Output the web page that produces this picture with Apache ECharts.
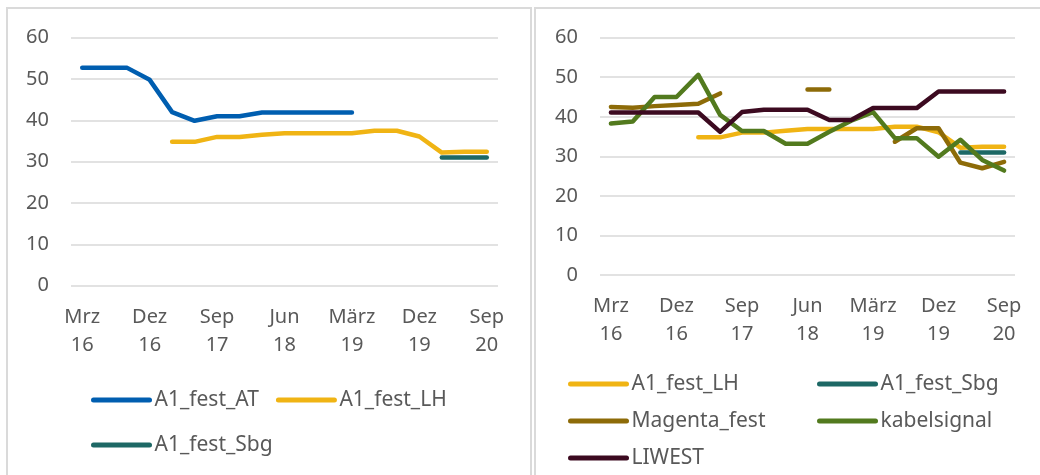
<!DOCTYPE html>
<html>
<head>
<meta charset="utf-8">
<script src="https://cdn.jsdelivr.net/npm/echarts@6/dist/echarts.min.js"></script>
<style>
body { margin: 0; background: #fff; overflow: hidden; }
.panel { position: absolute; top: 7px; height: 480px; border: 2px solid #dadada; }
#left { left: 6px; width: 522px; }
#right { left: 534px; width: 520px; }
</style>
</head>
<body>
<div id="left" class="panel"></div>
<div id="right" class="panel"></div>
<script>
var categories = ['Mrz 16', 'Jun 16', 'Sep 16', 'Dez 16', 'Mrz 17', 'Jun 17', 'Sep 17', 'Dez 17',
                  'Mrz 18', 'Jun 18', 'Sep 18', 'Dez 18', 'März 19', 'Jun 19', 'Sep 19', 'Dez 19',
                  'Mrz 20', 'Jun 20', 'Sep 20'];
var yTicks = [0, 60, 10];   // min, max, step

var a1FestAT   = [52.7, 52.7, 52.7, 49.8, 42.0, 39.9, 41.0, 41.0, 41.9, 41.9, 41.9, 41.9, 41.9,
                  null, null, null, null, null, null];
var a1FestLH   = [null, null, null, null, 34.8, 34.8, 36.0, 36.0, 36.5, 36.9, 36.9, 36.9, 36.9,
                  37.5, 37.5, 36.1, 32.2, 32.4, 32.4];
var a1FestSbg  = [null, null, null, null, null, null, null, null, null, null, null, null, null,
                  null, null, null, 31.0, 31.0, 31.0];
var magentaFest = [42.5, 42.3, 42.7, 43.0, 43.3, 45.9, null, null, null, 46.9, 46.9, null, null,
                   33.7, 37.1, 37.1, 28.4, 27.0, 28.6];
var kabelsignal = [38.3, 38.8, 45.0, 45.0, 50.6, 40.5, 36.4, 36.4, 33.2, 33.2, 36.2, 39.0, 41.2,
                   34.6, 34.6, 29.9, 34.2, 29.1, 26.4];
var liwest      = [41.1, 41.1, 41.1, 41.1, 41.1, 36.2, 41.2, 41.8, 41.8, 41.8, 39.2, 39.2, 42.2,
                   42.2, 42.2, 46.4, 46.4, 46.4, 46.4];

var colors = {
  at: '#005eb0', lh: '#f0b414', sbg: '#1d6865',
  magenta: '#8d6b08', kabel: '#527a1e', liwest: '#3c0a20'
};

var font = '"Noto Sans", sans-serif';
var textColor = '#595959';

function line(name, data, color) {
  return {
    name: name,
    type: 'line',
    data: data,
    symbol: 'none',
    lineStyle: { width: 4.5, color: color, cap: 'round', join: 'round' },
    itemStyle: { color: color },
    emphasis: { disabled: true }
  };
}

function axes(grid) {
  return {
    animation: false,
    textStyle: { fontFamily: font },
    grid: grid,
    xAxis: {
      type: 'category',
      data: categories,
      boundaryGap: true,
      axisLine: { show: false },
      axisTick: { show: false },
      splitLine: { show: false },
      axisLabel: {
        interval: 2,
        margin: 17,
        color: textColor,
        fontSize: 20,
        fontFamily: font,
        lineHeight: 28.5,
        formatter: function (v) { return v.replace(' ', '\n'); }
      }
    },
    yAxis: {
      type: 'value',
      min: yTicks[0],
      max: yTicks[1],
      interval: yTicks[2],
      axisLine: { show: false },
      axisTick: { show: false },
      axisLabel: { margin: 22, color: textColor, fontSize: 20, fontFamily: font },
      splitLine: { lineStyle: { color: '#d9d9d9', width: 1.5 } }
    }
  };
}

var legendText = { color: textColor, fontSize: 21, fontFamily: font };

// left panel
var leftChart = echarts.init(document.getElementById('left'));
var leftOption = axes({ left: 63, top: 28.7, width: 427, height: 248 });
leftOption.legend = {
  left: 83, top: 377, width: 400, padding: 0,
  itemWidth: 56, itemHeight: 5, itemGap: 17,
  lineStyle: { width: 5 },
  textStyle: Object.assign({ lineHeight: 28 }, legendText),
  data: ['A1_fest_AT', 'A1_fest_LH', 'A1_fest_Sbg']
};
leftOption.series = [
  line('A1_fest_AT', a1FestAT, colors.at),
  line('A1_fest_LH', a1FestLH, colors.lh),
  line('A1_fest_Sbg', a1FestSbg, colors.sbg)
];
leftChart.setOption(leftOption);

// right panel
var rightChart = echarts.init(document.getElementById('right'));
var rightOption = axes({ left: 64, top: 28.7, width: 415, height: 237.3 });
var rightLegend = {
  orient: 'vertical', top: 363, padding: 0,
  itemWidth: 56, itemHeight: 5, itemGap: 13,
  lineStyle: { width: 5 },
  textStyle: Object.assign({ lineHeight: 24 }, legendText)
};
rightOption.legend = [
  Object.assign({ left: 32, data: ['A1_fest_LH', 'Magenta_fest', 'LIWEST'] }, rightLegend),
  Object.assign({ left: 281, data: ['A1_fest_Sbg', 'kabelsignal'] }, rightLegend)
];
rightOption.series = [
  line('A1_fest_LH', a1FestLH, colors.lh),
  line('A1_fest_Sbg', a1FestSbg, colors.sbg),
  line('Magenta_fest', magentaFest, colors.magenta),
  line('kabelsignal', kabelsignal, colors.kabel),
  line('LIWEST', liwest, colors.liwest)
];
rightChart.setOption(rightOption);
</script>
</body>
</html>
